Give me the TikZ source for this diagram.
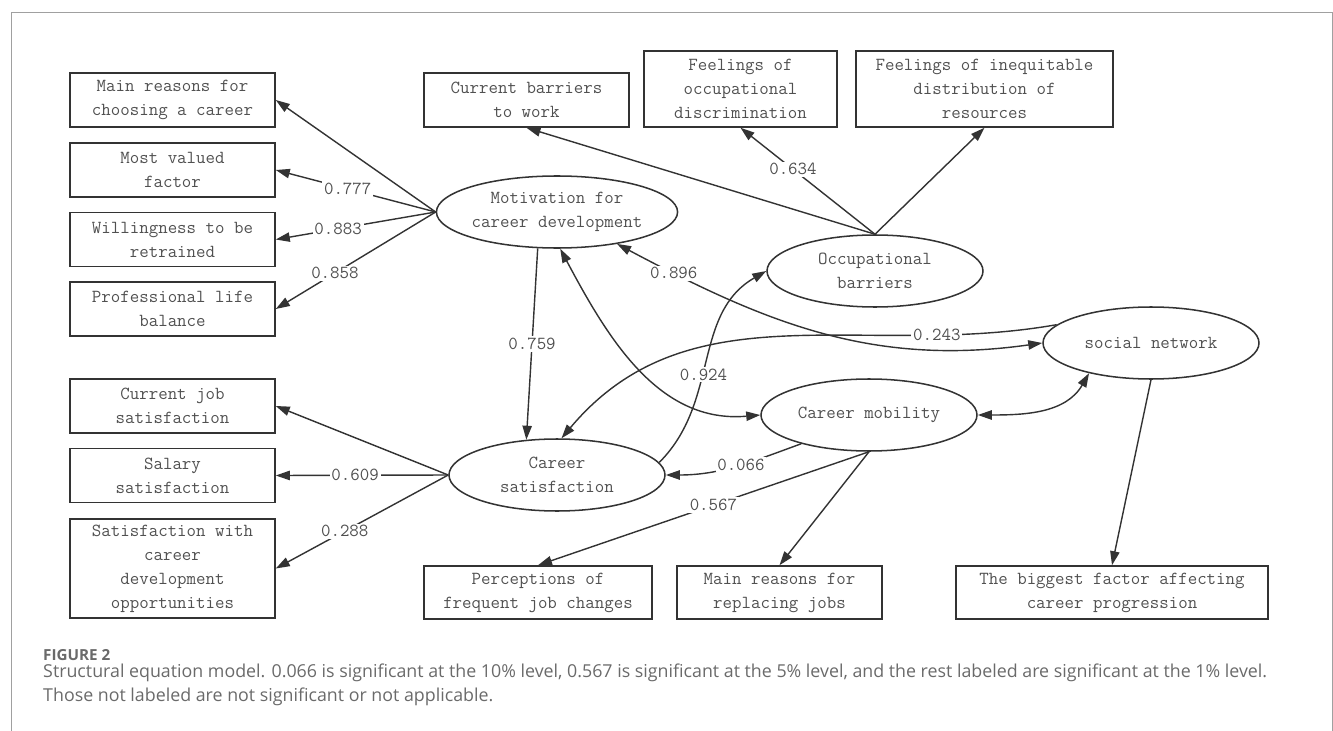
\documentclass[tikz,border=0pt]{standalone}
\usepackage{fontspec}
\newfontfamily\capfont{Open Sans}
\usetikzlibrary{arrows.meta,shapes.geometric}

\definecolor{txtgray}{HTML}{505050}
\definecolor{lngray}{HTML}{333333}
\definecolor{capgray}{HTML}{6A6A6A}
\definecolor{framegray}{HTML}{A0A0A0}

\tikzset{
  semfont/.style={font=\fontsize{15.7}{20.5}\selectfont\ttfamily},
  obs/.style={draw=lngray, line width=1.3pt, text=txtgray, align=center, inner sep=0pt, semfont},
  lat/.style={ellipse, draw=lngray, line width=1.3pt, text=txtgray, align=center, inner sep=0pt,
              minimum width=6.48cm, minimum height=2.16cm, semfont},
  arr/.style={-{Triangle[length=0.42cm,width=0.28cm]}, draw=lngray, line width=1.2pt},
  dbl/.style={{Triangle[length=0.42cm,width=0.28cm]}-{Triangle[length=0.42cm,width=0.28cm]}, draw=lngray, line width=1.2pt},
  lbl/.style={fill=white, text=txtgray, inner sep=1.5pt, semfont},
}

\begin{document}
\begin{tikzpicture}[x=0.03cm, y=-0.03cm]
\useasboundingbox (0,0) rectangle (1333,731);
\draw[framegray, line width=0.8pt] (11,731) -- (11,12) -- (1332,12) -- (1332,731);

% observed variables
\node[obs, minimum width=6.15cm, minimum height=1.62cm] (b1) at (172.5,100) {Main reasons for\\choosing a career};
\node[obs, minimum width=6.15cm, minimum height=1.62cm] (b2) at (172.5,170) {Most valued\\factor};
\node[obs, minimum width=6.15cm, minimum height=1.62cm] (b3) at (172.5,239.5) {Willingness to be\\retrained};
\node[obs, minimum width=6.15cm, minimum height=1.62cm] (b4) at (172.5,309) {Professional life\\balance};
\node[obs, minimum width=6.15cm, minimum height=1.62cm] (b5) at (172.5,406) {Current job\\satisfaction};
\node[obs, minimum width=6.15cm, minimum height=1.62cm] (b6) at (172.5,475.5) {Salary\\satisfaction};
\node[obs, minimum width=6.15cm, minimum height=2.97cm] (b7) at (172.5,568.5) {Satisfaction with\\career\\development\\opportunities};

\node[obs, minimum width=6.15cm, minimum height=1.62cm] (t1) at (526.5,100) {Current barriers\\to work};
\node[obs, minimum width=5.79cm, minimum height=2.28cm] (t2) at (740.5,89) {Feelings of\\occupational\\discrimination};
\node[obs, minimum width=7.71cm, minimum height=2.28cm] (t3) at (984.5,89) {Feelings of inequitable\\distribution of\\resources};

\node[obs, minimum width=6.84cm, minimum height=1.59cm] (p1) at (538,592.5) {Perceptions of\\frequent job changes};
\node[obs, minimum width=6.15cm, minimum height=1.59cm] (p2) at (779.5,592.5) {Main reasons for\\replacing jobs};
\node[obs, minimum width=9.36cm, minimum height=1.59cm] (p3) at (1112,592.5) {The biggest factor affecting\\career progression};

% latent variables
\node[lat] (mot) at (557,212) {Motivation for\\career development};
\node[lat] (ob) at (875,271) {Occupational\\barriers};
\node[lat] (soc) at (1151,343) {social network};
\node[lat] (mob) at (869,415) {Career mobility};
\node[lat] (cs) at (557,475) {Career\\satisfaction};

\draw[arr] (mot.west) -- (b1.east);
\foreach \b/\v/\p in {b2/0.777/0.55, b3/0.883/0.61, b4/0.858/0.63}{
   \draw[arr] (mot.west) -- node[lbl, pos=\p] {\v} (\b.east);
}
\draw[arr] (cs.west) -- (b5.east);
\foreach \b/\v/\p in {b6/0.609/0.54, b7/0.288/0.6}{
   \draw[arr] (cs.west) -- node[lbl, pos=\p] {\v} (\b.east);
}

\draw[arr] (ob.north) -- (t1.south);
\draw[arr] (ob.north) -- node[lbl, pos=0.61] {0.634} (t2.south);
\draw[arr] (ob.north) -- (t3.south);

\draw[arr] (mob.south) -- node[lbl, pos=0.47] {0.567} (p1.north);
\draw[arr] (mob.south) -- (p2.north);
\draw[arr] (soc.south) -- (p3.north);

\draw[arr] (mot.242) -- node[lbl, pos=0.5] {0.759} (cs.131);
\draw[dbl] (mot.-28) to[out=-28, in=188] node[lbl, pos=0.13] {0.896} (soc.west);
\draw[arr] (soc.169) to[out=190, in=50] node[lbl, pos=0.21] {0.243} (cs.83);
\draw[arr] (cs.7) to[out=45, in=210] node[lbl, pos=0.43] {0.924} (ob.west);
\draw[dbl] (mot.-85) to[out=-62, in=185] (mob.west);
\draw[dbl] (mob.east) to[out=0, in=240] (soc.206);
\draw[arr] (mob.203) to[out=200, in=0] node[lbl, pos=0.45] {0.066} (cs.east);

% caption
\node[anchor=base west, text=capgray, inner sep=0pt, font=\capfont\bfseries\fontsize{13}{15}\selectfont] (fig) at (43,660) {FIGURE 2};
\node[anchor=base west, text=capgray, inner sep=0pt, font=\capfont\fontsize{15.2}{17}\selectfont] (cap1) at (43,677) {Structural equation model. 0.066 is significant at the 10\% level, 0.567 is significant at the 5\% level, and the rest labeled are significant at the 1\% level.};
\node[anchor=base west, text=capgray, inner sep=0pt, font=\capfont\fontsize{15.2}{17}\selectfont] (cap2) at (43,701) {Those not labeled are not significant or not applicable.};
\end{tikzpicture}
\end{document}
